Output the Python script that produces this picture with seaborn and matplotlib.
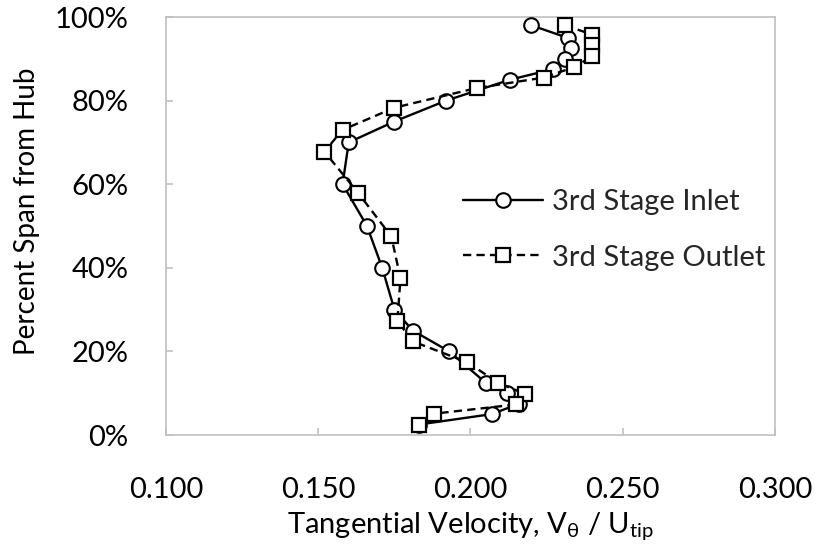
import matplotlib
matplotlib.use("Agg")
import matplotlib.pyplot as plt
from matplotlib.ticker import PercentFormatter, FormatStrFormatter
import seaborn as sns
import pandas as pd

# 3rd stage inlet traverse: span (% from hub) and normalized tangential velocity
inlet_span = [98, 95, 92.5, 90, 87.5, 85, 80, 75, 70, 60, 50, 40, 30, 25, 20, 12.5, 10, 7.5, 5, 2.5]
inlet_vel = [0.220, 0.232, 0.233, 0.231, 0.227, 0.213, 0.192, 0.175, 0.160, 0.158,
             0.166, 0.171, 0.175, 0.181, 0.193, 0.205, 0.212, 0.216, 0.207, 0.183]

# 3rd stage outlet traverse
outlet_span = [98, 95.8, 93.2, 90.6, 88, 85.5, 83, 78.3, 73, 67.8, 58, 47.5, 37.5,
               27.3, 22.4, 17.4, 12.5, 9.8, 7.3, 5.1, 2.3]
outlet_vel = [0.231, 0.240, 0.240, 0.240, 0.234, 0.224, 0.202, 0.175, 0.158, 0.152,
              0.163, 0.174, 0.177, 0.176, 0.181, 0.199, 0.209, 0.218, 0.215, 0.188, 0.183]

series_names = ["3rd Stage Inlet", "3rd Stage Outlet"]
x_ticks = [0.100, 0.150, 0.200, 0.250, 0.300]
y_ticks = [0, 20, 40, 60, 80, 100]

sns.set_theme(style="white")
plt.rcParams["font.family"] = ["Lato", "DejaVu Sans"]

FS = 21
fig = plt.figure(figsize=(8.2, 5.6), dpi=100)
ax = fig.add_axes([166 / 820, 1 - 435 / 560, 609 / 820, 418 / 560])

inlet = pd.DataFrame({"vel": inlet_vel, "span": inlet_span})
outlet = pd.DataFrame({"vel": outlet_vel, "span": outlet_span})

sns.lineplot(data=inlet, x="vel", y="span", sort=False, estimator=None, ax=ax,
             color="black", linewidth=1.7, marker="o", markersize=10.5,
             markerfacecolor="white", markeredgecolor="black", markeredgewidth=1.5,
             label=series_names[0], zorder=3)
sns.lineplot(data=outlet, x="vel", y="span", sort=False, estimator=None, ax=ax,
             color="black", linewidth=1.7, linestyle=(0, (3.5, 2.2)), marker="s",
             markersize=9.5, markerfacecolor="white", markeredgecolor="black",
             markeredgewidth=1.6, label=series_names[1], zorder=4)

ax.set_xlim(x_ticks[0], x_ticks[-1])
ax.set_ylim(y_ticks[0], y_ticks[-1])
ax.set_xticks(x_ticks)
ax.set_yticks(y_ticks)
ax.xaxis.set_major_formatter(FormatStrFormatter("%.3f"))
ax.yaxis.set_major_formatter(PercentFormatter(xmax=100, decimals=0))

for s in ax.spines.values():
    s.set_color("#c0c0c0")
    s.set_linewidth(1.2)

ax.tick_params(axis="both", which="major", direction="in", length=5, width=1.2,
               color="#c0c0c0", labelsize=FS, labelcolor="black")
ax.tick_params(axis="x", pad=30)
ax.tick_params(axis="y", pad=27)
ax.tick_params(top=False, right=False, bottom=True, left=True)

ax.set_xlabel("Tangential Velocity, V$_\\mathregular{θ}$ / U$_\\mathregular{tip}$",
              fontsize=FS, color="black")
ax.set_ylabel("Percent Span from Hub", fontsize=20, color="black")
ax.xaxis.set_label_coords(0.5, -0.18)
ax.yaxis.set_label_coords(-0.207, 0.536)

leg = ax.legend(loc="center left", bbox_to_anchor=(463 / 820, 1 - 230 / 560),
                bbox_transform=fig.transFigure, frameon=False, fontsize=FS,
                handlelength=2.75, labelspacing=1.0, handletextpad=0.3,
                borderaxespad=0, borderpad=0)

fig.savefig("out.png", dpi=100)
